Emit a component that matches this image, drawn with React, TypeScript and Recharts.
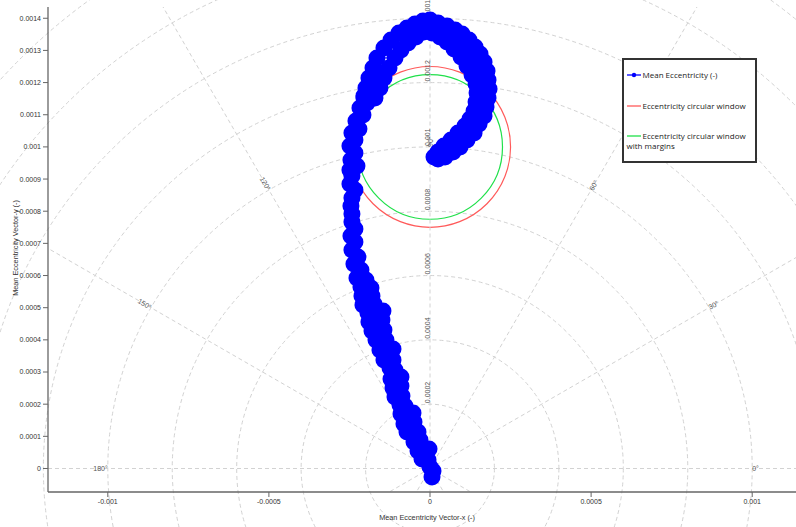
import React from 'react';
import { ScatterChart, Scatter, XAxis, YAxis, ReferenceArea, ReferenceLine, ReferenceDot, Legend } from 'recharts';

const eccX = [
  0.0000062, 0.0000093, 0, -0.0000062, -0.0000248, -0.0000031, -0.0000373, -0.0000311, -0.0000497, -0.0000373,
  -0.0000714, -0.0000497, -0.0000808, -0.0000528, -0.0000901, -0.0000777, -0.0000932, -0.000087, -0.0001087, -0.0000901,
  -0.0001149, -0.0000901, -0.0001211, -0.0001087, -0.0001242, -0.0001149, -0.0001429, -0.0001149, -0.0001553, -0.0001367,
  -0.0001677, -0.0001429, -0.0001801, -0.0001491, -0.0001895, -0.000146, -0.0001926, -0.0001739, -0.0002081, -0.0001801,
  -0.0002112, -0.0001833, -0.0002143, -0.0001988, -0.0002267, -0.0002143, -0.0002361, -0.0002236, -0.0002423, -0.000233,
  -0.0002454, -0.000233, -0.0002423, -0.0002423, -0.0002454, -0.0002423, -0.000233, -0.0002485, -0.0002423, -0.0002485,
  -0.0002267, -0.0002454, -0.000233, -0.0002485, -0.000233, -0.0002423, -0.0002205, -0.0002298, -0.0002081, -0.0002174,
  -0.0001957, -0.000205, -0.000205, -0.0001708, -0.0001988, -0.0001553, -0.0001895, -0.0001429, -0.000177, -0.0001273,
  -0.0001646, -0.0001087, -0.0001429, -0.0000901, -0.0001211, -0.0000683, -0.0000963, -0.0000435, -0.0000714, -0.0000186,
  -0.0000466, 0.0000062, -0.0000217, 0.0000311, 0, 0.0000528, 0.0000248, 0.0000745, 0.0000528, 0.0000963,
  0.0000777, 0.0001149, 0.0000994, 0.0001305, 0.0001211, 0.0001429, 0.0001398, 0.000146, 0.0001553,
  0.0000311, 0.0000621, 0.0000932, 0.0001242, 0.0001429, 0.0001553, 0.0001615, 0.0001615,
  0.0001429,
  0.0001677, 0.0001367, 0.000177, 0.0001242, 0.0001801, 0.0001087, 0.0001833, 0.000087, 0.0001801, 0.0000652,
  0.0001739, 0.0000435, 0.0001677, 0.0000248, 0.0001522, 0.0001367, 0.0001149, 0.0000932, 0.0000714, 0.0000466,
  0.0000248, 0.0000124,
];

const eccY = [
  -0.0000264, -0.0000078, 0.0000047, 0.0000264, 0.0000295, 0.0000606, 0.0000544, 0.0000886, 0.0000824, 0.0001135,
  0.0001135, 0.0001446, 0.0001384, 0.0001726, 0.0001695, 0.0001944, 0.0001975, 0.0002255, 0.0002224, 0.0002566,
  0.0002504, 0.0002846, 0.0002783, 0.0003063, 0.0003126, 0.0003374, 0.0003374, 0.0003716, 0.0003685, 0.0003996,
  0.0003996, 0.0004307, 0.0004276, 0.0004618, 0.0004556, 0.0004898, 0.0004836, 0.0005116, 0.0005085, 0.0005365,
  0.0005365, 0.0005614, 0.0005645, 0.0005862, 0.0005925, 0.0006173, 0.000636, 0.0006578, 0.0006795, 0.0007044,
  0.0007231, 0.0007448, 0.0007666, 0.0007915, 0.0008164, 0.0008413, 0.0008661, 0.0008848, 0.0009097, 0.0009283,
  0.0009408, 0.0009594, 0.0009812, 0.001003, 0.0010216, 0.0010434, 0.0010558, 0.0010807, 0.0010994, 0.0011212,
  0.0011367, 0.0011585, 0.0011523, 0.0011523, 0.0011834, 0.0011834, 0.0012145, 0.0012145, 0.0012456, 0.0012456,
  0.0012767, 0.0012767, 0.0013078, 0.0013015, 0.0013326, 0.0013233, 0.0013544, 0.001342, 0.00137, 0.0013575,
  0.0013824, 0.0013544, 0.0013917, 0.001342, 0.0013948, 0.0013264, 0.0013855, 0.0013046, 0.0013762, 0.0012798,
  0.0013637, 0.0012518, 0.0013513, 0.0012238, 0.0013326, 0.0011958, 0.0013109, 0.0011678, 0.0012891,
  0.00137, 0.0013482, 0.0013264, 0.0012953, 0.0012642, 0.0012331, 0.001202, 0.0011709,
  0.0011398,
  0.0012642, 0.0011118, 0.0012362, 0.0010869, 0.0012082, 0.0010652, 0.0011802, 0.0010434, 0.0011523, 0.0010216,
  0.0011243, 0.001003, 0.0010963, 0.0009843, 0.0010714, 0.0010434, 0.0010216, 0.0009999, 0.0009843, 0.0009688,
  0.0009625, 0.0009688,
];

const xTicks = [-0.001, -0.0005, 0, 0.0005, 0.001];
const yTicks = [0, 0.0001, 0.0002, 0.0003, 0.0004, 0.0005, 0.0006, 0.0007, 0.0008, 0.0009, 0.001, 0.0011, 0.0012, 0.0013, 0.0014];
const xDomain = [-0.0011856, 0.0011359];
const yDomain = [-0.0000731, 0.001435];

const gridRadii = [0.0002, 0.0004, 0.0006, 0.0008, 0.001, 0.0012, 0.0014, 0.0016, 0.0018];
const spokeAngles = [0, 30, 60, 90, 120, 150, 180, 210, 240, 270, 300, 330];
const spokeLength = 0.0025;
const angleLabels = [0, 30, 60, 90, 120, 150, 180];
const angleLabelRadius = 0.001;
const radialLabels = [0.0002, 0.0004, 0.0006, 0.0008, 0.001, 0.0012, 0.0014];

const windowCenterX = 0;
const windowCenterY = 0.001;
const windowRadius = 0.00025;
const windowMarginRadius = 0.000225;

const seriesName = 'Mean Eccentricity (-)';
const windowName = 'Eccentricity circular window';
const marginName = 'Eccentricity circular window with margins';
const xTitle = 'Mean Eccentricity Vector-x (-)';
const yTitle = 'Mean Eccentricity Vector-y (-)';

const BLUE = '#0000ff';
const RED = '#ff5a5a';
const GREEN = '#1fe04a';
const GRID = '#d2d2d2';
const FONT = "'Liberation Sans', Arial, sans-serif";

const eccData = eccX.map((x, i) => ({ x, y: eccY[i] }));

const ringShape = (stroke: string, dash: string | undefined, width: number) => (p: any) => (
  <ellipse
    cx={p.x + p.width / 2}
    cy={p.y + p.height / 2}
    rx={Math.abs(p.width) / 2}
    ry={Math.abs(p.height) / 2}
    fill="none"
    stroke={stroke}
    strokeDasharray={dash}
    strokeWidth={width}
  />
);

const angleLabelShape = (a: number) => (p: any) => {
  let rot = 0;
  let anchor: 'start' | 'end' = 'start';
  if (a === 90) {
    rot = -90;
  } else if (a < 90) {
    rot = -a;
  } else {
    rot = 180 - a;
    anchor = 'end';
  }
  return (
    <text
      x={p.cx}
      y={p.cy}
      transform={`rotate(${rot} ${p.cx} ${p.cy})`}
      textAnchor={anchor}
      dominantBaseline="central"
      fontSize={7}
      fill="#555"
      fontFamily={FONT}
    >
      {`${a}°`}
    </text>
  );
};

const radialLabelShape = (r: number) => (p: any) => (
  <text
    x={p.cx}
    y={p.cy - 1}
    transform={`rotate(-90 ${p.cx} ${p.cy - 1})`}
    textAnchor="start"
    fontSize={7}
    fill="#555"
    fontFamily={FONT}
  >
    {String(r)}
  </text>
);

const dotShape = (p: any) => <circle cx={p.cx} cy={p.cy} r={8.5} fill={BLUE} stroke="none" />;

const YTitle = () => (
  <text x={18} y={248} transform="rotate(-90 18 248)" textAnchor="middle" fontSize={7.3} fill="#333" fontFamily={FONT}>
    {yTitle}
  </text>
);

const XTitle = () => (
  <text x={427} y={520} textAnchor="middle" fontSize={7.3} fill="#333" fontFamily={FONT}>
    {xTitle}
  </text>
);

const legendItems = [
  { name: seriesName, color: BLUE, marker: true, top: 10 },
  { name: windowName, color: RED, marker: false, top: 40.5 },
  { name: marginName, color: GREEN, marker: false, top: 71 },
];

const LegendBox = () => (
  <div
    style={{
      position: 'relative',
      width: 135,
      height: 105,
      boxSizing: 'border-box',
      border: '2px solid #333',
      background: '#fff',
      fontFamily: "'Open Sans', 'Noto Sans', sans-serif",
      fontSize: 8,
      color: '#222',
      lineHeight: '10px',
    }}
  >
    {legendItems.map((it) => (
      <div key={it.name} style={{ position: 'absolute', left: 2.5, top: it.top, width: 126 }}>
        <svg width={15} height={10} style={{ verticalAlign: 'top', marginRight: 1 }}>
          <line x1={0} y1={5} x2={14} y2={5} stroke={it.color} strokeWidth={1.3} />
          {it.marker ? <circle cx={7} cy={5} r={2.2} fill={it.color} /> : null}
        </svg>
        {it.name}
      </div>
    ))}
  </div>
);

export default function App() {
  return (
    <div style={{ position: 'absolute', left: 0, top: 0, width: 796, height: 527, background: '#fff' }}>
      <ScatterChart width={796} height={527} margin={{ top: 7, right: 0, bottom: 0, left: 0 }}>
        <XAxis
          type="number"
          dataKey="x"
          domain={xDomain}
          allowDataOverflow
          ticks={xTicks}
          interval={0}
          height={35}
          tickSize={5}
          tick={{ fontSize: 7, fill: '#333', fontFamily: FONT }}
          axisLine={{ stroke: '#666', strokeWidth: 1.3 }}
          tickLine={{ stroke: '#666' }}
          label={<XTitle />}
        />
        <YAxis
          type="number"
          dataKey="y"
          domain={yDomain}
          allowDataOverflow
          ticks={yTicks}
          interval={0}
          width={48}
          tickSize={5}
          tick={{ fontSize: 7, fill: '#333', fontFamily: FONT }}
          axisLine={{ stroke: '#666', strokeWidth: 1.3 }}
          tickLine={{ stroke: '#666' }}
          label={<YTitle />}
        />
        {gridRadii.map((r) => (
          <ReferenceArea key={`ring-${r}`} x1={-r} x2={r} y1={-r} y2={r} ifOverflow="hidden" shape={ringShape(GRID, '4 3', 1)} />
        ))}
        {spokeAngles.map((a) => (
          <ReferenceLine
            key={`spoke-${a}`}
            segment={[
              { x: 0, y: 0 },
              { x: spokeLength * Math.cos((a * Math.PI) / 180), y: spokeLength * Math.sin((a * Math.PI) / 180) },
            ]}
            ifOverflow="hidden"
            stroke={GRID}
            strokeDasharray="4 3"
            strokeWidth={1}
          />
        ))}
        {angleLabels.map((a) => (
          <ReferenceDot
            key={`alab-${a}`}
            x={angleLabelRadius * Math.cos((a * Math.PI) / 180)}
            y={angleLabelRadius * Math.sin((a * Math.PI) / 180)}
            ifOverflow="visible"
            shape={angleLabelShape(a)}
          />
        ))}
        {radialLabels.map((r) => (
          <ReferenceDot key={`rlab-${r}`} x={0} y={r} ifOverflow="visible" shape={radialLabelShape(r)} />
        ))}
        <ReferenceArea
          x1={windowCenterX - windowRadius}
          x2={windowCenterX + windowRadius}
          y1={windowCenterY - windowRadius}
          y2={windowCenterY + windowRadius}
          ifOverflow="visible"
          shape={ringShape(RED, undefined, 1.2)}
        />
        <ReferenceArea
          x1={windowCenterX - windowMarginRadius}
          x2={windowCenterX + windowMarginRadius}
          y1={windowCenterY - windowMarginRadius}
          y2={windowCenterY + windowMarginRadius}
          ifOverflow="visible"
          shape={ringShape(GREEN, undefined, 1.2)}
        />
        <Scatter
          name={seriesName}
          data={eccData}
          fill={BLUE}
          line={{ stroke: BLUE, strokeWidth: 1 }}
          shape={dotShape}
          isAnimationActive={false}
        />
        <Legend
          layout="horizontal"
          verticalAlign="middle"
          align="center"
          content={() => <LegendBox />}
          wrapperStyle={{ left: 622, top: 58, width: 135, height: 105 }}
        />
      </ScatterChart>
    </div>
  );
}
